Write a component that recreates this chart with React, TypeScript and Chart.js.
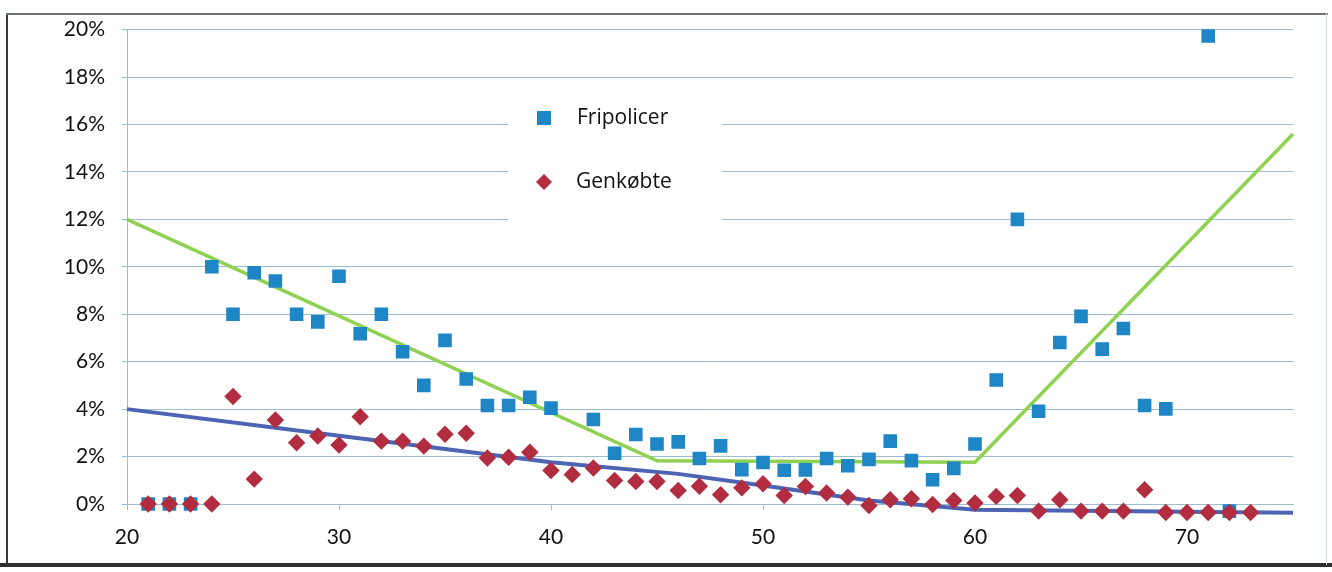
import React, { useEffect, useRef } from 'react';
import { Chart, registerables } from 'chart.js';

Chart.register(...registerables);

// ---- Data (percent values) ----
const fripAges = [21, 22, 23, 24, 25, 26, 27, 28, 29, 30, 31, 32, 33, 34, 35, 36, 37, 38, 39, 40, 42, 43, 44, 45, 46, 47, 48, 49, 50, 51, 52, 53, 54, 55, 56, 57, 58, 59, 60, 61, 62, 63, 64, 65, 66, 67, 68, 69, 71, 72];
const fripValues = [0, 0, 0, 10.0, 8.0, 9.75, 9.4, 8.0, 7.68, 9.6, 7.18, 8.0, 6.42, 5.0, 6.9, 5.27, 4.15, 4.15, 4.5, 4.04, 3.56, 2.14, 2.93, 2.53, 2.62, 1.92, 2.45, 1.45, 1.75, 1.42, 1.44, 1.92, 1.61, 1.88, 2.65, 1.83, 1.02, 1.5, 2.53, 5.23, 12.0, 3.91, 6.81, 7.91, 6.53, 7.4, 4.15, 4.01, 19.73, -0.3];

const genAges = [21, 22, 23, 24, 25, 26, 27, 28, 29, 30, 31, 32, 33, 34, 35, 36, 37, 38, 39, 40, 41, 42, 43, 44, 45, 46, 47, 48, 49, 50, 51, 52, 53, 54, 55, 56, 57, 58, 59, 60, 61, 62, 63, 64, 65, 66, 67, 68, 69, 70, 71, 72, 73];
const genValues = [0, 0, 0, 0, 4.53, 1.05, 3.54, 2.58, 2.87, 2.49, 3.68, 2.65, 2.65, 2.44, 2.94, 2.98, 1.94, 1.97, 2.18, 1.41, 1.24, 1.52, 0.99, 0.95, 0.95, 0.57, 0.75, 0.39, 0.68, 0.85, 0.36, 0.74, 0.46, 0.29, -0.06, 0.18, 0.22, -0.02, 0.15, 0.04, 0.32, 0.36, -0.3, 0.18, -0.3, -0.3, -0.3, 0.6, -0.36, -0.36, -0.36, -0.36, -0.36];

const fripTrendAges = [20, 45, 60, 75];
const fripTrendValues = [12.0, 1.82, 1.76, 15.6];

const genTrendAges = [20, 30, 40, 46, 50, 55, 60, 75];
const genTrendValues = [4.0, 2.88, 1.76, 1.27, 0.78, 0.15, -0.24, -0.37];

const xTickValues = [20, 30, 40, 50, 60, 70];
const legendLabels = ['Fripolicer', 'Genkøbte'];

const FRIP_COLOR = '#1f86c6';
const GEN_COLOR = '#b22d40';
const FRIP_TREND = '#8fd150';
const GEN_TREND = '#4d63b3';
const GRID = '#9dbccf';
const FONT = 'Lato, "Open Sans", sans-serif';
const LEGEND_FONT = '"Open Sans", Lato, sans-serif';

const toPts = (xs: number[], ys: number[]) => xs.map((x, i) => ({ x, y: ys[i] }));

const legendPlugin = {
  id: 'boxLegend',
  beforeDatasetsDraw(chart: any) {
    const ctx = chart.ctx;
    ctx.save();
    ctx.fillStyle = '#ffffff';
    ctx.fillRect(508, 100, 214, 134);
    // square marker
    ctx.fillStyle = FRIP_COLOR;
    ctx.fillRect(537, 111, 14, 14);
    // diamond marker
    ctx.fillStyle = GEN_COLOR;
    ctx.beginPath();
    ctx.moveTo(544, 174);
    ctx.lineTo(552, 182);
    ctx.lineTo(544, 190);
    ctx.lineTo(536, 182);
    ctx.closePath();
    ctx.fill();
    ctx.fillStyle = '#111111';
    ctx.font = `21px ${LEGEND_FONT}`;
    ctx.textBaseline = 'middle';
    ctx.textAlign = 'left';
    ctx.fillText(legendLabels[0], 577, 118);
    ctx.fillText(legendLabels[1], 576, 182);
    ctx.restore();
  },
};

export default function App() {
  const canvasRef = useRef<HTMLCanvasElement | null>(null);

  useEffect(() => {
    document.body.style.margin = '0';
    const canvas = canvasRef.current;
    if (!canvas) return;
    const chart = new Chart(canvas, {
      type: 'scatter',
      data: {
        datasets: [
          {
            label: legendLabels[0],
            data: toPts(fripAges, fripValues),
            pointStyle: 'rect',
            pointRadius: 8.2,
            backgroundColor: FRIP_COLOR,
            borderColor: FRIP_COLOR,
            borderWidth: 2,
            clip: false,
            order: 1,
          },
          {
            label: legendLabels[1],
            data: toPts(genAges, genValues),
            pointStyle: 'rectRot',
            pointRadius: 7.3,
            backgroundColor: GEN_COLOR,
            borderColor: GEN_COLOR,
            borderWidth: 2,
            clip: false,
            order: 0,
          },
          {
            label: 'Fripolicer trend',
            data: toPts(fripTrendAges, fripTrendValues),
            showLine: true,
            pointRadius: 0,
            borderColor: FRIP_TREND,
            borderWidth: 3.5,
            clip: false,
            order: 2,
          } as any,
          {
            label: 'Genkøbte trend',
            data: toPts(genTrendAges, genTrendValues),
            showLine: true,
            pointRadius: 0,
            borderColor: GEN_TREND,
            borderWidth: 4,
            clip: false,
            order: 3,
          } as any,
        ],
      },
      options: {
        responsive: false,
        animation: false,
        layout: { padding: { top: 28, right: 39, bottom: 0, left: 0 } },
        plugins: {
          legend: { display: false },
          tooltip: { enabled: false },
        },
        scales: {
          x: {
            type: 'linear',
            min: 20,
            max: 75,
            afterBuildTicks: (axis: any) => {
              axis.ticks = xTickValues.map((v) => ({ value: v }));
            },
            afterFit: (scale: any) => {
              scale.height = 68;
            },
            grid: {
              drawOnChartArea: false,
              drawTicks: true,
              tickLength: 6,
              color: GRID,
            },
            border: { display: true, color: GRID },
            ticks: {
              color: '#111111',
              font: { family: FONT, size: 21 },
              padding: 15,
              maxRotation: 0,
            },
          },
          y: {
            type: 'linear',
            min: 0,
            max: 20,
            afterFit: (scale: any) => {
              scale.width = 127;
            },
            grid: {
              color: GRID,
              drawTicks: true,
              tickLength: 5,
            },
            border: { display: true, color: GRID },
            ticks: {
              stepSize: 2,
              color: '#111111',
              font: { family: FONT, size: 21 },
              padding: 17,
              callback: (v: any) => `${v}%`,
            },
          },
        },
      },
      plugins: [legendPlugin],
    });
    return () => chart.destroy();
  }, []);

  return (
    <div style={{ position: 'relative', width: 1332, height: 572, overflow: 'hidden', background: '#ffffff' }}>
      <canvas ref={canvasRef} width={1332} height={572} style={{ position: 'absolute', left: 0, top: 0 }} />
      <div style={{ position: 'absolute', left: 6, top: 13, width: 2, height: 552, background: '#3a3a3a' }} />
      <div style={{ position: 'absolute', left: 6, top: 13, width: 1322, height: 2, background: '#6b7278' }} />
      <div style={{ position: 'absolute', left: 0, top: 563, width: 1332, height: 4, background: '#2e2e2e' }} />
      <div style={{ position: 'absolute', left: 1326, top: 13, width: 1, height: 552, background: '#d6dde2' }} />
    </div>
  );
}
